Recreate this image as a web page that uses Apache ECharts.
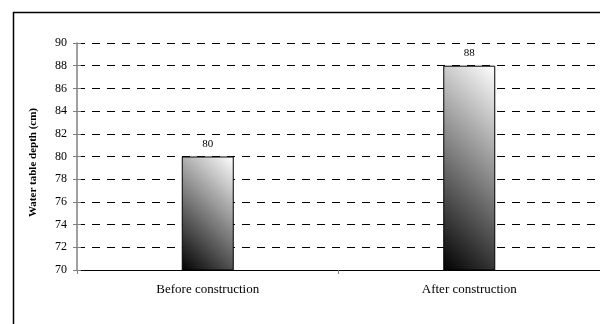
<!DOCTYPE html>
<html>
<head>
<meta charset="utf-8">
<script src="https://cdn.jsdelivr.net/npm/echarts@6/dist/echarts.min.js"></script>
<style>
  html, body { margin: 0; padding: 0; background: #fff; }
  #chart { width: 600px; height: 324px; }
</style>
</head>
<body>
<div id="chart"></div>
<script>
// Water table depth before and after construction
const categories = ['Before construction', 'After construction'];
const depthValues = [80, 88];
const yMin = 70;
const yMax = 90;
const yStep = 2;

const serif = '"Liberation Serif", "Times New Roman", serif';
const BAR_WIDTH = 52;

// Diagonal black-to-white fill running at 45° in screen space,
// expressed in the bar's own bounding-box coordinates.
function diagonalFill(w, h) {
  const span = (w + h) / 2;
  return {
    type: 'linear', x: 0, y: 1, x2: span / w, y2: 1 - span / h,
    colorStops: [
      { offset: 0, color: '#000000' },
      { offset: 1, color: '#ffffff' }
    ]
  };
}

const chart = echarts.init(document.getElementById('chart'), null, { renderer: 'canvas' });

const option = {
  animation: false,
  backgroundColor: '#ffffff',
  grid: { left: 77, top: 43, bottom: 54, right: -3, containLabel: false },
  graphic: [{
    type: 'rect',
    shape: { x: 13.5, y: 12.5, width: 700, height: 400 },
    style: { fill: 'none', stroke: '#000', lineWidth: 1.5 },
    silent: true, z: 100
  }],
  xAxis: {
    type: 'category',
    data: categories,
    axisLine: { lineStyle: { color: '#000', width: 1 } },
    axisTick: { show: true, alignWithLabel: false, length: 4, lineStyle: { color: '#808080' } },
    axisLabel: { fontFamily: serif, fontSize: 13, color: '#000', margin: 13 },
    splitLine: { show: false }
  },
  yAxis: [{
    type: 'value',
    min: yMin, max: yMax, interval: yStep,
    name: 'Water table depth (cm)',
    nameLocation: 'middle',
    nameGap: 38,
    nameTextStyle: { fontFamily: serif, fontSize: 11, fontWeight: 'bold', color: '#000', padding: [0, 12, 0, 0] },
    axisLine: { show: true, lineStyle: { color: '#808080', width: 1.5 } },
    axisTick: { show: true, length: 4, lineStyle: { color: '#808080' } },
    axisLabel: { fontFamily: serif, fontSize: 12, color: '#000', margin: 10 },
    splitLine: { show: true, lineStyle: { color: '#000', type: [8, 7], width: 1 } }
  }, {
    type: 'value',
    position: 'left',
    min: yMin, max: yMax, interval: yStep,
    axisLine: { show: false },
    axisTick: { show: true, inside: true, length: 4, lineStyle: { color: '#808080' } },
    axisLabel: { show: false },
    splitLine: { show: false }
  }],
  series: [{
    type: 'bar',
    data: depthValues,
    barWidth: BAR_WIDTH,
    itemStyle: { color: '#888', borderColor: '#000', borderWidth: 1 },
    label: {
      show: true, position: 'top', distance: 7,
      fontFamily: serif, fontSize: 11, color: '#000'
    }
  }]
};

chart.setOption(option);

// Once the scale is laid out, give each bar its own screen-space diagonal fill.
const basePx = chart.convertToPixel({ yAxisIndex: 0 }, yMin);
const styledData = depthValues.map(v => {
  const h = Math.abs(basePx - chart.convertToPixel({ yAxisIndex: 0 }, v));
  return { value: v, itemStyle: { color: diagonalFill(BAR_WIDTH, h) } };
});
chart.setOption({ series: [{ data: styledData }] });
</script>
</body>
</html>
